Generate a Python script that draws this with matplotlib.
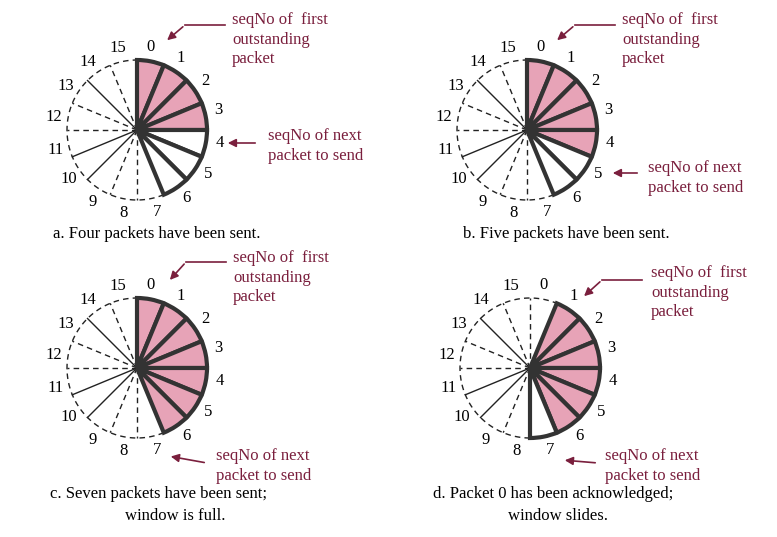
import numpy as np
import matplotlib.pyplot as plt
from matplotlib.patches import Wedge

plt.rcParams['font.family'] = ['Liberation Serif', 'DejaVu Serif']

# panel definitions: (center, first sent seq, count sent, window start)
centers = [(137, 130), (527, 130), (137, 368), (530, 368)]
sent_start = [0, 0, 0, 1]
sent_count = [4, 5, 7, 6]
win_start = [0, 0, 0, 1]
win_size = 7
first_arrow = [((225, 25), (165, 42)), ((615, 25), (555, 42)),
               ((226, 262), (168, 282)), ((642, 280), (582, 298))]
next_arrow = [((258, 143), (225, 143)), ((640, 173), (610, 173)),
              ((207, 463), (168, 456)), ((598, 463), (562, 460))]
first_text = [(232, 12), (622, 12), (233, 250), (651, 265)]
next_text = [(268, 128), (648, 160), (216, 448), (605, 448)]
captions = [["a. Four packets have been sent."], ["b. Five packets have been sent."],
            ["c. Seven packets have been sent;", "window is full."],
            ["d. Packet 0 has been acknowledged;", "window slides."]]
cap_pos = [(53, 234), (463, 234), (50, 494), (433, 494)]
# outside-window line style per boundary index
solid_lines = {10, 11, 14}

R = 70
step = 22.5
red = '#7a1f3d'
pink = '#e7a3b7'

fig = plt.figure(figsize=(7.77, 5.37), dpi=100)
ax = fig.add_axes([0, 0, 1, 1])
ax.set_xlim(0, 777)
ax.set_ylim(537, 0)
ax.set_aspect('equal')
ax.axis('off')


def math_ang(cw):
    # clockwise-from-top angle -> matplotlib angle (y axis inverted)
    return cw - 90


for p in range(4):
    cx, cy = centers[p]
    in_win = [(win_start[p] + i) % 16 for i in range(win_size)]
    sent = [(sent_start[p] + i) % 16 for i in range(sent_count[p])]
    # dashed outer arc for outside window
    a0 = (win_start[p] + win_size) * step
    a1 = win_start[p] * step + 360
    t = np.radians(np.linspace(a0, a1, 100))
    ax.plot(cx + R * np.sin(t), cy - R * np.cos(t), color='#222222', lw=1, ls=(0, (4, 3)))
    for k in range(16):
        ang = np.radians(k * step)
        x2, y2 = cx + R * np.sin(ang), cy - R * np.cos(ang)
        if k in in_win or (k - 1) % 16 in in_win:
            continue
        ls = '-' if k in solid_lines else (0, (4, 3))
        ax.plot([cx, x2], [cy, y2], color='#222222', lw=1, ls=ls)
    for k in in_win:
        fc = pink if k in sent else 'white'
        w = Wedge((cx, cy), R, math_ang(k * step), math_ang((k + 1) * step),
                  facecolor=fc, edgecolor='#333333', lw=3, zorder=3)
        ax.add_patch(w)
    for k in range(16):
        ang = np.radians(k * step + 9)
        ax.text(cx + 84 * np.sin(ang), cy - 84 * np.cos(ang), str(k), fontsize=12,
                ha='center', va='center')
    # annotations
    (sx, sy), (ex, ey) = first_arrow[p]
    ax.plot([sx, sx - 40], [sy, sy], color=red, lw=1.2)
    ax.annotate('', xy=(ex, ey), xytext=(sx - 40, sy),
                arrowprops=dict(arrowstyle='-|>', color=red, lw=1.2, mutation_scale=12))
    ax.text(*first_text[p], "seqNo of  first\noutstanding\npacket", color=red,
            fontsize=12, va='top', linespacing=1.3)
    (sx, sy), (ex, ey) = next_arrow[p]
    ax.annotate('', xy=(ex, ey), xytext=(sx, sy),
                arrowprops=dict(arrowstyle='-|>', color=red, lw=1.2, mutation_scale=12))
    ax.text(*next_text[p], "seqNo of next\npacket to send", color=red,
            fontsize=12, va='top', linespacing=1.3)
    x, y = cap_pos[p]
    ax.text(x, y, captions[p][0], fontsize=12, va='center')
    if len(captions[p]) > 1:
        ax.text(x + 125, y + 22, captions[p][1], fontsize=12, va='center', ha='center')

fig.savefig('out.png', dpi=100)
